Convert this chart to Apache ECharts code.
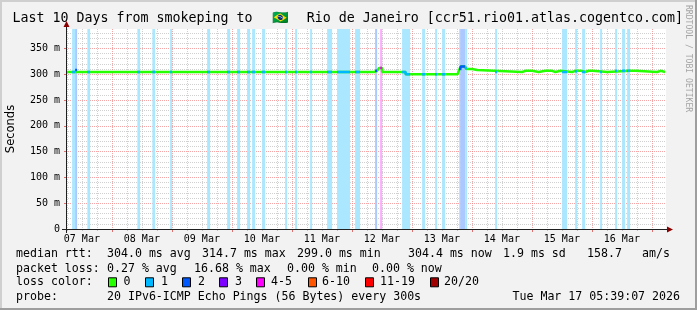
<!DOCTYPE html>
<html><head><meta charset="utf-8">
<script src="https://cdn.jsdelivr.net/npm/echarts@6/dist/echarts.min.js"></script>
<style>html,body{margin:0;padding:0;background:#f2f2f2}#c{width:697px;height:310px}</style>
</head><body><div id="c"></div>
<script>
// ---- data (time unit: hours since 07 Mar 00:00) ----
const T0 = 5 + 39/60 + 7/3600;   // 07 Mar 05:39:07
const T1 = T0 + 240;             // 17 Mar 05:39:07
const dayLabels = ['07 Mar','08 Mar','09 Mar','10 Mar','11 Mar','12 Mar','13 Mar','14 Mar','15 Mar','16 Mar'];
const Y_MAX = 387.5;
const yTickValues = [0,50,100,150,200,250,300,350];
const yTickLabels = ['0','50 m','100 m','150 m','200 m','250 m','300 m','350 m'];

// median rtt (ms) as step breakpoints
const medianT = [5.65, 9.3, 10.1, 128.9, 130.1, 130.9, 132.1, 141.5, 162.3, 162.9, 163.5, 165.3, 165.9, 168.1, 170.1, 188.1, 189.4, 190.2, 192.1, 194.7, 197.4, 198.1, 200.1, 201.4, 203.4, 208.1, 209.4, 210.1, 211.7, 213.3, 214.7, 215.3, 216.3, 222.1, 231.4, 232.1, 233.4, 242.1, 243.4, 245.3];
const medianV = [304.2, 308, 304.2, 306.5, 304.2, 312, 304.2, 300.0, 302.5, 308, 314.7, 312.5, 310, 308, 304.2, 306.5, 304.2, 306.5, 304.2, 306.5, 304.2, 306.5, 304.2, 306.5, 304.2, 306.5, 304.2, 306.5, 304.2, 306.5, 304.2, 306.5, 304.2, 306.5, 304.2, 306.5, 304.2, 306.5, 304.2, 304.4];

// packet-loss periods: start, end (hours), loss class index
const bandStart = [8.1, 9.3, 14.2, 34.2, 40.2, 47.3, 62.1, 70.1, 74.1, 78.1, 80.1, 84.1, 93.3, 97.3, 103.3, 110.1, 114.1, 121.3, 129.3, 131.3, 140.1, 148.1, 153.3, 156.1, 162.9, 163.3, 165.3, 177.3, 204.1, 209.3, 212.1, 219.3, 225.3, 228.1, 230.1];
const bandEnd   = [9.3, 10.1, 15.3, 35.3, 41.3, 48.1, 63.3, 71.3, 75.3, 79.3, 81.3, 85.3, 94.1, 98.1, 104.1, 112.1, 119.3, 123.3, 130.1, 132.1, 143.3, 149.3, 154.1, 157.3, 163.3, 165.3, 166.1, 178.1, 206.1, 210.1, 213.3, 220.1, 226.1, 229.3, 231.3];
const bandLevel = [1,2, 1,1,1,1,1,1,1,1,1,1,1,1,1,1,1,1, 2,4, 1,1,1,1,1, 2, 1,1,1,1,1,1,1,1,1];

const lossLabels = ['0','1','2','3','4-5','6-10','11-19','20/20'];
const lossColors = ['#26ff00','#00b8ff','#0059ff','#7e00ff','#ff00ff','#ff5500','#ff0000','#a10000'];

const titleLeft = 'Last 10 Days from smokeping to ';
const titleFlag = '\u{1F1E7}\u{1F1F7}';
const titleRight = ' Rio de Janeiro [ccr51.rio01.atlas.cogentco.com]';
const legendRows = [
  [['median rtt:',16], ['304.0 ms avg',107], ['314.7 ms max',202], ['299.0 ms min',297], ['304.4 ms now',408], ['1.9 ms sd',503], ['158.7',587], ['am/s',642]],
  [['packet loss:',16], ['0.27 % avg',107], ['16.68 % max',194], ['0.00 % min',287], ['0.00 % now',372]],
  [['loss color:',16]],
  [['probe:',16], ['20 IPv6-ICMP Echo Pings (56 Bytes) every 300s',107]]
];
const rowY = [254.3, 268.5, 282.3, 297];
const lossBoxX = [108,145,182,219,256,308,365,430];
const lossLabelX = [123.5,161,198,235,271,322,380,444];
const dateText = 'Tue Mar 17 05:39:07 2026';

// ---- build ----
const MONO = "'DejaVu Sans Mono', monospace";
const GL = 66, GT = 29, GW = 600, GH = 200;
function light(hex, a) {
  const n = parseInt(hex.slice(1), 16);
  const r = (n >> 16) & 255, g = (n >> 8) & 255, b = n & 255;
  const m = c => Math.round(255 * (1 - a) + c * a);
  return 'rgb(' + m(r) + ',' + m(g) + ',' + m(b) + ')';
}
function valueAt(t) {
  let v = medianV[0];
  for (let i = 0; i < medianT.length; i++) { if (medianT[i] <= t) v = medianV[i]; else break; }
  return v;
}
// median segments coloured by loss class (drawn over the green base line)
const segByLevel = {};
bandStart.forEach((s, i) => {
  const e = bandEnd[i], lv = bandLevel[i];
  const pts = segByLevel[lv] || (segByLevel[lv] = []);
  pts.push([s, valueAt(s)]);
  medianT.forEach((t, k) => { if (t > s && t < e) pts.push([t, medianV[k]]); });
  pts.push([e, valueAt(e - 1e-6)]);
  pts.push([e, null]);
});

const minorX = [], majorX = [], labelX = [];
for (let t = 6; t < T1; t += 6) { if (t > T0) { if (t % 24 === 0) majorX.push(t); else minorX.push(t); } }
for (let i = 0; i < dayLabels.length; i++) labelX.push(12 + 24 * i);
const minorY = [];
for (let v = 10; v < Y_MAX; v += 10) if (v % 50 !== 0) minorY.push(v);

const GRID_MINOR = 'rgba(192,192,192,0.75)';
const GRID_MAJOR = 'rgba(240,128,128,0.7)';
const LW = 2.5;

const chart = echarts.init(document.getElementById('c'), null, {width: 697, height: 310});

const graphics = [];
graphics.push({type:'rect', shape:{x:0,y:0,width:697,height:2}, style:{fill:'#cfcfcf'}, silent:true});
graphics.push({type:'rect', shape:{x:0,y:0,width:2,height:310}, style:{fill:'#cfcfcf'}, silent:true});
graphics.push({type:'rect', shape:{x:0,y:308,width:697,height:2}, style:{fill:'#9e9e9e'}, silent:true});
graphics.push({type:'rect', shape:{x:695,y:0,width:2,height:310}, style:{fill:'#9e9e9e'}, silent:true});
const AX = '#202020', ARROW = '#8a0000';
const yb = GT + GH;
graphics.push({type:'line', shape:{x1:GL-4, y1:yb+0.5, x2:GL+GW+2, y2:yb+0.5}, style:{stroke:AX, lineWidth:1}, z:50});
graphics.push({type:'line', shape:{x1:GL+0.5, y1:yb+4, x2:GL+0.5, y2:GT-3}, style:{stroke:AX, lineWidth:1}, z:50});
graphics.push({type:'polygon', shape:{points:[[GL+GW+1, yb-2.5],[GL+GW+7, yb+0.5],[GL+GW+1, yb+3.5]]}, style:{fill:ARROW}, z:51});
graphics.push({type:'polygon', shape:{points:[[GL-2.5, GT-2],[GL+0.5, GT-8],[GL+3.5, GT-2]]}, style:{fill:ARROW}, z:51});
const TF = '13.3px ' + MONO;
graphics.push({type:'text', x:12.4, y:18.5, style:{text:titleLeft, font:TF, fill:'#000', align:'left', verticalAlign:'middle'}, z:60});
graphics.push({type:'text', x:280.5, y:18.5, style:{text:titleFlag, font:TF, fill:'#000', align:'center', verticalAlign:'middle'}, z:60});
graphics.push({type:'text', x:683, y:18.5, style:{text:titleRight, font:TF, fill:'#000', align:'right', verticalAlign:'middle'}, z:60});
graphics.push({type:'text', x:11, y:129, rotation:Math.PI/2, style:{text:'Seconds', font:"11.5px 'DejaVu Sans', sans-serif", fill:'#000', align:'center', verticalAlign:'middle'}, z:60});
graphics.push({type:'text', x:688.5, y:5, rotation:-Math.PI/2, style:{text:'RRDTOOL / TOBI OETIKER', font:'8.1px ' + MONO, fill:'#a4a4a4', align:'left', verticalAlign:'middle'}, z:60});
legendRows.forEach((row, r) => row.forEach(([txt, x]) => {
  graphics.push({type:'text', x:x, y:rowY[r], style:{text:txt, font:'11.6px ' + MONO, fill:'#000', align:'left', verticalAlign:'middle'}, z:60});
}));
lossLabels.forEach((lab, i) => {
  graphics.push({type:'rect', shape:{x:lossBoxX[i]+0.5, y:rowY[2]-4.5, width:8, height:9}, style:{fill:lossColors[i], stroke:'#000', lineWidth:1}, z:60});
  graphics.push({type:'text', x:lossLabelX[i], y:rowY[2], style:{text:lab, font:'11.6px ' + MONO, fill:'#000', align:'left', verticalAlign:'middle'}, z:60});
});
graphics.push({type:'text', x:680, y:rowY[3], style:{text:dateText, font:'11.6px ' + MONO, fill:'#000', align:'right', verticalAlign:'middle'}, z:60});

const areas = bandStart.map((s, i) => [{xAxis: s, itemStyle:{color: light(lossColors[bandLevel[i]], 0.33)}}, {xAxis: bandEnd[i]}]);

const series = [{
  type: 'line', xAxisIndex: 0, yAxisIndex: 0,
  data: medianT.map((t, i) => [t, medianV[i]]),
  step: 'end', symbol: 'none', lineStyle: {width: LW, color: lossColors[0]}, z: 5, silent: true,
  markArea: {silent: true, data: areas}
}];
Object.keys(segByLevel).forEach(lv => {
  series.push({type: 'line', xAxisIndex: 0, yAxisIndex: 0, data: segByLevel[lv], step: 'end', symbol: 'none',
    connectNulls: false, lineStyle: {width: LW, color: lossColors[lv]}, z: 6, silent: true});
});

chart.setOption({
  animation: false,
  backgroundColor: '#f2f2f2',
  grid: {left: GL, top: GT, width: GW, height: GH, show: true, backgroundColor: '#ffffff', borderWidth: 0},
  xAxis: [{
    type: 'value', min: T0, max: T1,
    axisLine: {show: false},
    axisTick: {show: true, customValues: minorX, length: 2, lineStyle: {color: '#c0c0c0'}},
    splitLine: {show: true, lineStyle: {color: GRID_MINOR, type: [1, 1], width: 1}},
    axisLabel: {show: true, customValues: labelX, margin: 5, color: '#000', fontFamily: MONO, fontSize: 10,
      formatter: v => dayLabels[Math.round((v - 12) / 24)]}
  }, {
    type: 'value', min: T0, max: T1, position: 'bottom',
    axisLine: {show: false},
    axisTick: {show: true, customValues: majorX, length: 3, lineStyle: {color: '#e07070'}},
    splitLine: {show: true, lineStyle: {color: GRID_MAJOR, type: [1, 1], width: 1}},
    axisLabel: {show: false}
  }],
  yAxis: [{
    type: 'value', min: 0, max: Y_MAX,
    axisLine: {show: false},
    axisTick: {show: true, customValues: yTickValues.slice(1), length: 2, lineStyle: {color: '#e07070'}},
    splitLine: {show: true, lineStyle: {color: GRID_MAJOR, type: [1, 1], width: 1}},
    axisLabel: {show: true, customValues: yTickValues, margin: 6, color: '#000', fontFamily: MONO, fontSize: 10,
      formatter: v => yTickLabels[yTickValues.indexOf(v)]}
  }, {
    type: 'value', min: 0, max: Y_MAX, position: 'left',
    axisLine: {show: false},
    axisTick: {show: false, customValues: minorY},
    splitLine: {show: true, lineStyle: {color: GRID_MINOR, type: [1, 1], width: 1}},
    axisLabel: {show: false}
  }],
  series: series,
  graphic: graphics
});
</script></body></html>
